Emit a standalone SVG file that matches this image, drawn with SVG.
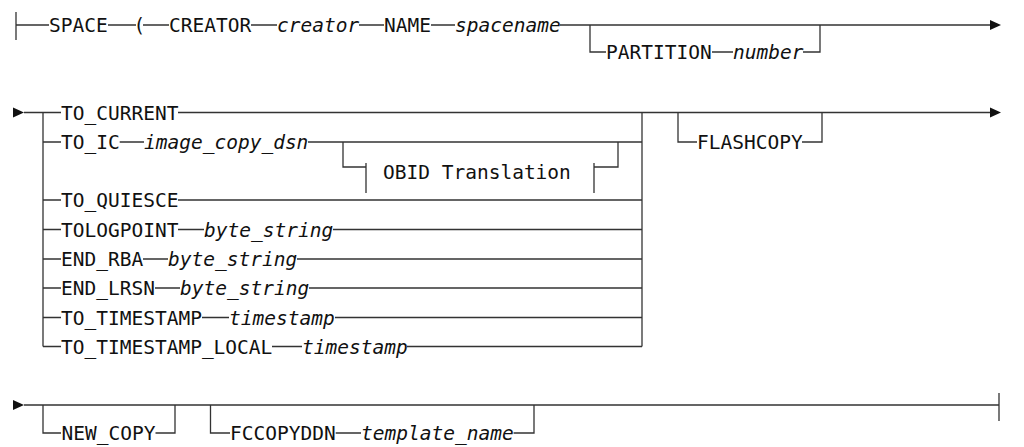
<svg xmlns="http://www.w3.org/2000/svg" width="1024" height="447" viewBox="0 0 1024 447">
<style>
.t{font-family:"DejaVu Sans Mono","Liberation Mono",monospace;font-size:19.5px;fill:#111}
.v{font-style:italic}
.c path{fill:none;stroke:#333;stroke-width:1.3}
.c polygon{fill:#111;stroke:none}
</style>
<rect width="1024" height="447" fill="#fff"/>
<g id="connectors" class="c">
<!-- row 1 -->
<path d="M16 12V40M16 25H49M108 25H136M143 25H169M251 25H277M359 25H384M431 25H455M560 25H991"/>
<path d="M590 25V52H606M712 52H733M803 52H820V25"/>
<polygon points="990,20 1001,25 990,30"/>
<!-- row 2 -->
<polygon points="13,107.5 24,112.5 13,117.5"/>
<path d="M24 112.5H61M43 112.5V346.5"/>
<path d="M43 142H61M43 200H61M43 229.5H61M43 259H61M43 288H61M43 317.5H61M43 346.5H61"/>
<path d="M178 112.5H642M119.7 142H144M308 142H642M178 200H642"/>
<path d="M178 229.5H204M333 229.5H642M143 259H168M297 259H642M155 288H180M309 288H642"/>
<path d="M202 317.5H229M335 317.5H642M272 346.5H302M407 346.5H642"/>
<path d="M642 112.5V346.5"/>
<path d="M343 142V167H366M366 163V193M594 163V193M594 167H618V142"/>
<path d="M642 112.5H991M678 112.5V142H697M802 142H822V112.5"/>
<polygon points="990,107.5 1001,112.5 990,117.5"/>
<!-- row 3 -->
<polygon points="13,400 24,405 13,410"/>
<path d="M24 405H999M999 393V421"/>
<path d="M43 405V433H61M155.5 433H175V405M210.5 405V433H230M335.7 433H361M513.6 433H534V405"/>
</g>
<g id="n-space"><text class="t" x="49" y="32.3">SPACE</text></g>
<g id="n-paren"><text class="t" x="133.5" y="32.3">(</text></g>
<g id="n-creator-kw"><text class="t" x="169" y="32.3">CREATOR</text></g>
<g id="n-creator"><text class="t v" x="277" y="32.3">creator</text></g>
<g id="n-name-kw"><text class="t" x="384" y="32.3">NAME</text></g>
<g id="n-spacename"><text class="t v" x="455" y="32.3">spacename</text></g>
<g id="n-partition"><text class="t" x="606" y="59.3">PARTITION</text></g>
<g id="n-number"><text class="t v" x="733" y="59.3">number</text></g>
<g id="n-to-current"><text class="t" x="61" y="119.8">TO_CURRENT</text></g>
<g id="n-to-ic"><text class="t" x="61" y="149.3">TO_IC</text></g>
<g id="n-image-copy-dsn"><text class="t v" x="144" y="149.3">image_copy_dsn</text></g>
<g id="n-obid"><text class="t" x="383" y="179">OBID Translation</text></g>
<g id="n-to-quiesce"><text class="t" x="61" y="207.3">TO_QUIESCE</text></g>
<g id="n-tologpoint"><text class="t" x="61" y="236.8">TOLOGPOINT</text><text class="t v" x="204" y="236.8">byte_string</text></g>
<g id="n-end-rba"><text class="t" x="61" y="266.3">END_RBA</text><text class="t v" x="168" y="266.3">byte_string</text></g>
<g id="n-end-lrsn"><text class="t" x="61" y="295.3">END_LRSN</text><text class="t v" x="180" y="295.3">byte_string</text></g>
<g id="n-to-timestamp"><text class="t" x="61" y="324.8">TO_TIMESTAMP</text><text class="t v" x="229" y="324.8">timestamp</text></g>
<g id="n-to-timestamp-local"><text class="t" x="61" y="353.8">TO_TIMESTAMP_LOCAL</text><text class="t v" x="302" y="353.8">timestamp</text></g>
<g id="n-flashcopy"><text class="t" x="697" y="149.3">FLASHCOPY</text></g>
<g id="n-new-copy"><text class="t" x="61.5" y="440.3">NEW_COPY</text></g>
<g id="n-fccopyddn"><text class="t" x="230" y="440.3">FCCOPYDDN</text><text class="t v" x="361" y="440.3">template_name</text></g>
</svg>
